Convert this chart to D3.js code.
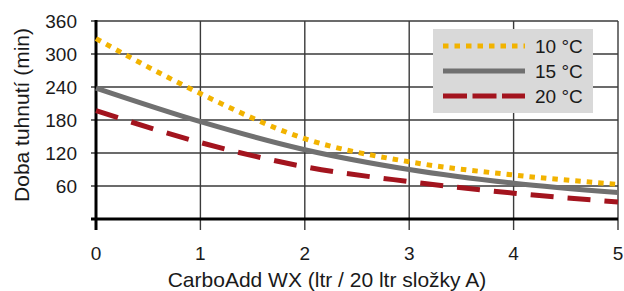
<!DOCTYPE html>
<html>
<head>
<meta charset="utf-8">
<script src="https://cdn.jsdelivr.net/npm/d3@7"></script>
<style>
  body { margin: 0; background: #fff; }
  svg { display: block; font-family: "Liberation Sans", Arial, sans-serif; }
</style>
</head>
<body>
<svg id="chart" width="624" height="291"></svg>
<script>
// values
var dosage = [0, 1, 2, 3, 4, 5];
var t10 = [328, 228, 146, 104, 80, 63];
var t15 = [238, 177, 126, 90, 65, 48];
var t20 = [197, 139, 95, 68, 47, 31];
var yTicks = [60, 120, 180, 240, 300, 360];
var seriesNames = ["10 °C", "15 °C", "20 °C"];

var svg = d3.select("#chart");

var x = d3.scaleLinear().domain([0, 5]).range([96, 618]);
var y = d3.scaleLinear().domain([0, 360]).range([219, 21]);

// grid - horizontal
svg.append("g").selectAll("line")
  .data(yTicks)
  .enter().append("line")
  .attr("x1", 91).attr("x2", x(5))
  .attr("y1", function(d) { return y(d); })
  .attr("y2", function(d) { return y(d); })
  .attr("stroke", "#3a3a3a").attr("stroke-width", 1.4);

// grid - vertical (extends below axis as ticks)
svg.append("g").selectAll("line")
  .data(dosage.slice(1))
  .enter().append("line")
  .attr("x1", function(d) { return x(d); })
  .attr("x2", function(d) { return x(d); })
  .attr("y1", y(360)).attr("y2", 230)
  .attr("stroke", "#3a3a3a").attr("stroke-width", 1.4);

// axes
svg.append("line")
  .attr("x1", 91).attr("x2", x(5))
  .attr("y1", y(0)).attr("y2", y(0))
  .attr("stroke", "#000").attr("stroke-width", 3);
svg.append("line")
  .attr("x1", x(0)).attr("x2", x(0))
  .attr("y1", y(360) - 1).attr("y2", 230)
  .attr("stroke", "#000").attr("stroke-width", 3);

// tick labels
svg.append("g").selectAll("text")
  .data(yTicks)
  .enter().append("text")
  .attr("x", 77)
  .attr("y", function(d) { return y(d) + 7; })
  .attr("text-anchor", "end")
  .attr("font-size", 19)
  .attr("fill", "#1a1a1a")
  .text(function(d) { return d; });

svg.append("g").selectAll("text")
  .data(dosage)
  .enter().append("text")
  .attr("x", function(d) { return x(d); })
  .attr("y", 260)
  .attr("text-anchor", "middle")
  .attr("font-size", 19)
  .attr("fill", "#1a1a1a")
  .text(function(d) { return d; });

// axis titles
svg.append("text")
  .attr("x", 327).attr("y", 287)
  .attr("text-anchor", "middle")
  .attr("font-size", 21)
  .attr("fill", "#1a1a1a")
  .text("CarboAdd WX (ltr / 20 ltr složky A)");

svg.append("text")
  .attr("transform", "translate(29,115) rotate(-90)")
  .attr("text-anchor", "middle")
  .attr("font-size", 21)
  .attr("fill", "#1a1a1a")
  .text("Doba tuhnutí (min)");

// lines
var line = d3.line()
  .x(function(d, i) { return x(dosage[i]); })
  .y(function(d) { return y(d); })
  .curve(d3.curveMonotoneX);

var styles = [
  { data: t10, color: "#f2b300", dash: "5.5,6", legendDash: "5.5,6" },
  { data: t15, color: "#707070", dash: null, legendDash: null },
  { data: t20, color: "#a3141e", dash: "23,14", legendDash: "24,5.5" }
];

// draw red first, yellow on top
[2, 1, 0].forEach(function(i) {
  var s = styles[i];
  svg.append("path")
    .attr("d", line(s.data))
    .attr("fill", "none")
    .attr("stroke", s.color)
    .attr("stroke-width", 5)
    .attr("stroke-dasharray", s.dash);
});

// legend
var lg = svg.append("g");
lg.append("rect")
  .attr("x", 433).attr("y", 29)
  .attr("width", 160).attr("height", 84)
  .attr("fill", "#d9d9d9");

seriesNames.forEach(function(name, i) {
  var yy = 46 + i * 25;
  lg.append("line")
    .attr("x1", 443).attr("x2", 525)
    .attr("y1", yy).attr("y2", yy)
    .attr("stroke", styles[i].color)
    .attr("stroke-width", 5)
    .attr("stroke-dasharray", styles[i].legendDash);
  lg.append("text")
    .attr("x", 535).attr("y", yy + 7)
    .attr("font-size", 19)
    .attr("fill", "#1a1a1a")
    .text(name);
});
</script>
</body>
</html>
